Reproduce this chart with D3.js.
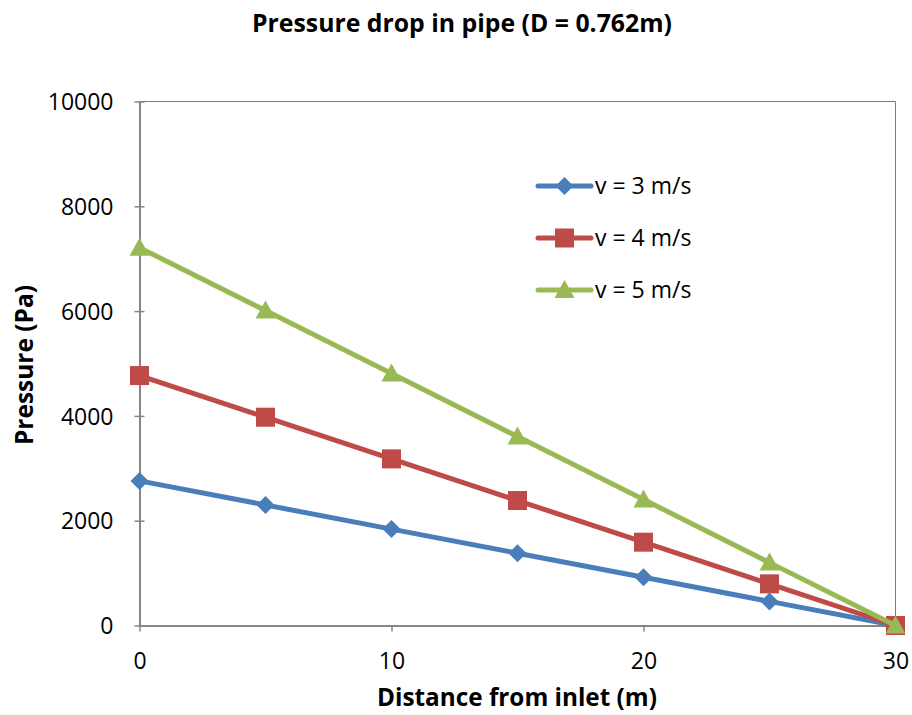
<!DOCTYPE html>
<html><head><meta charset="utf-8">
<script src="https://cdn.jsdelivr.net/npm/d3@7"></script>
<style>body{margin:0;background:#fff;} svg{display:block;font-family:"Open Sans","Noto Sans",sans-serif;}</style>
</head><body>
<svg id="c" width="912" height="715"></svg>
<script>
const distance = [0, 5, 10, 15, 20, 25, 30];
const v3 = [2760, 2300, 1840, 1380, 920, 460, 0];
const v4 = [4770, 3975, 3180, 2385, 1590, 795, 0];
const v5 = [7210, 6010, 4810, 3605, 2405, 1200, 0];
const seriesNames = ["v = 3 m/s", "v = 4 m/s", "v = 5 m/s"];
const xTicks = [0, 10, 20, 30];
const yTicks = [0, 2000, 4000, 6000, 8000, 10000];

const FONT = "'Open Sans',sans-serif";
const svg = d3.select("#c");
const L = 139.5, R = 895.5, T = 101.5, B = 625.5;
const x = d3.scaleLinear().domain([0, 30]).range([L, R]);
const y = d3.scaleLinear().domain([0, 10000]).range([B, T]);

// plot border top/right
svg.append("line").attr("x1", L).attr("x2", R).attr("y1", T).attr("y2", T).attr("stroke", "#4F81BD").attr("stroke-width", 1);
svg.append("line").attr("x1", R).attr("x2", R).attr("y1", T).attr("y2", B).attr("stroke", "#4F81BD").attr("stroke-width", 1);

// y axis
const ya = svg.append("g").attr("transform", `translate(${L},0)`)
  .call(d3.axisLeft(y).tickValues(yTicks).tickSize(5).tickSizeOuter(0).tickFormat(d3.format("d")));
ya.select(".domain").attr("stroke", "#868686").attr("stroke-width", 2);
ya.selectAll(".tick line").attr("stroke", "#868686").attr("stroke-width", 1.5).attr("x1", 5).attr("x2", -5);
ya.selectAll(".tick text").attr("font-size", 23).attr("fill", "#000").attr("x", -26).attr("dy", "0.36em")
  .style("font-family", FONT);

// x axis
const xa = svg.append("g").attr("transform", `translate(0,${B})`)
  .call(d3.axisBottom(x).tickValues(xTicks).tickSize(6).tickSizeOuter(0).tickFormat(d3.format("d")));
xa.select(".domain").attr("stroke", "#868686").attr("stroke-width", 2);
xa.selectAll(".tick line").attr("stroke", "#868686").attr("stroke-width", 1.5);
xa.selectAll(".tick text").attr("font-size", 23).attr("fill", "#000").attr("y", 43).attr("dy", 0)
  .style("font-family", FONT);
xa.selectAll(".tick").filter(d => d === 30).select("line").remove();

// title & labels
svg.append("text").attr("x", 462).attr("y", 32).attr("text-anchor", "middle")
  .attr("font-size", 24.8).attr("font-weight", "bold").text("Pressure drop in pipe (D = 0.762m)");
svg.append("text").attr("x", 517).attr("y", 706).attr("text-anchor", "middle")
  .attr("font-size", 24.3).attr("font-weight", "bold").text("Distance from inlet (m)");
svg.append("text").attr("transform", "translate(33,365) rotate(-90)").attr("text-anchor", "middle")
  .attr("font-size", 24.5).attr("font-weight", "bold").text("Pressure (Pa)");

const colors = ["#4A7EBB", "#BE4B48", "#98B954"];
const data = [v3, v4, v5];
const line = d3.line().x((d, i) => x(distance[i])).y(d => y(d));

function marker(g, k, cx, cy) {
  if (k === 0) {
    g.append("path").attr("d", `M${cx},${cy-9}L${cx+9},${cy}L${cx},${cy+9}L${cx-9},${cy}Z`).attr("fill", colors[k]);
  } else if (k === 1) {
    g.append("rect").attr("x", cx-9.5).attr("y", cy-9.5).attr("width", 19).attr("height", 19).attr("fill", colors[k]);
  } else {
    g.append("path").attr("d", `M${cx},${cy-10}L${cx+10},${cy+8}L${cx-10},${cy+8}Z`).attr("fill", colors[k]);
  }
}

data.forEach((vals, k) => {
  const g = svg.append("g");
  g.append("path").datum(vals).attr("d", line).attr("fill", "none").attr("stroke", colors[k])
    .attr("stroke-width", 5).attr("stroke-linejoin", "round");
  vals.forEach((v, i) => marker(g, k, x(distance[i]), y(v)));
});

// legend
const legY = [186, 238, 290];
seriesNames.forEach((n, k) => {
  const g = svg.append("g");
  g.append("line").attr("x1", 538).attr("x2", 591).attr("y1", legY[k]).attr("y2", legY[k])
    .attr("stroke", colors[k]).attr("stroke-width", 5).attr("stroke-linecap", "round");
  marker(g, k, 564.5, legY[k]);
  g.append("text").attr("x", 595).attr("y", legY[k]).attr("dy", "0.36em").attr("font-size", 23)
    .style("font-family", FONT).text(n);
});
</script>
</body></html>
